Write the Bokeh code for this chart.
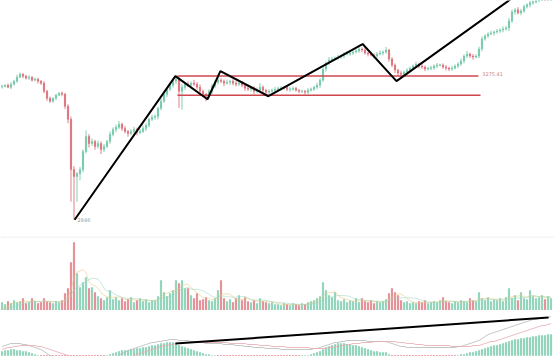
import numpy as np
from bokeh.plotting import figure
from bokeh.layouts import column
from bokeh.models import ColumnDataSource, Range1d, Span
from bokeh.embed import file_html
from bokeh.resources import INLINE
from bokeh.core.properties import value

# ---- daily index data -------------------------------------------------------
first_open = 3243
closes = [
    3245, 3248, 3242, 3251, 3260, 3272, 3281, 3275, 3269, 3272,
    3263, 3266, 3260, 3254, 3230, 3209, 3200, 3209, 3218, 3224,
    3221, 3185, 3146, 2996, 2975, 2984, 2996, 3050, 3095, 3074,
    3080, 3065, 3074, 3056, 3065, 3080, 3101, 3116, 3122, 3131,
    3119, 3110, 3104, 3110, 3116, 3107, 3110, 3119, 3128, 3146,
    3152, 3155, 3179, 3200, 3221, 3236, 3248, 3260, 3266, 3230,
    3242, 3251, 3248, 3254, 3251, 3242, 3230, 3221, 3215, 3230,
    3245, 3257, 3263, 3260, 3254, 3257, 3260, 3254, 3251, 3254,
    3248, 3239, 3236, 3239, 3230, 3233, 3242, 3233, 3227, 3230,
    3233, 3236, 3239, 3239, 3242, 3236, 3236, 3239, 3233, 3230,
    3230, 3227, 3233, 3236, 3242, 3248, 3263, 3296, 3314, 3323,
    3326, 3329, 3332, 3335, 3341, 3341, 3344, 3347, 3350, 3356,
    3353, 3344, 3341, 3338, 3335, 3341, 3344, 3347, 3353, 3326,
    3308, 3293, 3284, 3281, 3287, 3293, 3299, 3305, 3311, 3305,
    3302, 3296, 3299, 3299, 3305, 3308, 3308, 3302, 3299, 3296,
    3299, 3305, 3311, 3320, 3335, 3341, 3335, 3332, 3335, 3356,
    3386, 3395, 3401, 3404, 3407, 3410, 3413, 3416, 3419, 3440,
    3467, 3473, 3464, 3470, 3482, 3488, 3494, 3497, 3500, 3506,
    3512, 3509, 3518, 3524,
]
hi_wick = [
    4, 3, 5, 6, 4, 7, 5, 3, 4, 6,
    3, 5, 4, 3, 6, 4, 5, 3, 4, 3,
    5, 4, 6, 8, 10, 5, 8, 6, 18, 7,
    9, 5, 8, 6, 7, 5, 9, 6, 8, 10,
    5, 7, 4, 6, 8, 5, 7, 9, 6, 5,
    8, 6, 4, 7, 5, 6, 9, 8, 12, 6,
    9, 7, 8, 5, 10, 6, 8, 5, 4, 6,
    7, 5, 9, 6, 5, 8, 4, 6, 7, 5,
    6, 4, 7, 5, 6, 8, 12, 5, 4, 6,
    5, 7, 4, 6, 5, 4, 6, 5, 4, 3,
    5, 4, 6, 5, 4, 7, 6, 8, 5, 9,
    6, 4, 7, 5, 6, 8, 5, 4, 6, 7,
    5, 6, 4, 7, 5, 6, 8, 5, 9, 4,
    6, 5, 4, 7, 5, 6, 4, 5, 7, 4,
    6, 5, 4, 7, 5, 6, 4, 5, 6, 4,
    7, 5, 6, 8, 5, 9, 4, 6, 5, 7,
    8, 6, 5, 7, 4, 6, 5, 8, 6, 9,
    7, 5, 8, 6, 7, 5, 6, 4, 5, 6,
    5, 7, 4, 6,
]
lo_wick = [
    5, 4, 3, 6, 4, 5, 3, 6, 4, 5,
    4, 3, 7, 5, 6, 8, 5, 4, 6, 3,
    6, 8, 12, 96, 129, 75, 20, 8, 6, 12,
    7, 10, 6, 14, 8, 5, 7, 6, 9, 5,
    8, 6, 10, 5, 7, 9, 6, 5, 8, 6,
    5, 7, 9, 6, 5, 8, 6, 7, 9, 50,
    55, 8, 6, 10, 5, 7, 12, 9, 15, 6,
    8, 5, 7, 6, 9, 5, 8, 6, 7, 5,
    6, 8, 5, 7, 9, 6, 5, 8, 6, 7,
    5, 6, 4, 7, 5, 6, 8, 5, 4, 6,
    5, 7, 6, 4, 5, 6, 8, 5, 7, 6,
    5, 4, 6, 5, 7, 4, 5, 6, 4, 5,
    6, 5, 7, 4, 6, 5, 4, 7, 5, 8,
    6, 9, 7, 6, 5, 7, 4, 6, 5, 7,
    5, 6, 4, 7, 5, 6, 4, 5, 7, 6,
    5, 4, 6, 5, 7, 6, 5, 8, 4, 6,
    7, 5, 6, 4, 8, 5, 6, 7, 5, 9,
    6, 8, 5, 7, 6, 5, 8, 6, 5, 4,
    6, 5, 7, 4,
]
volumes = [
    8, 6, 9, 7, 10, 8, 9, 12, 7, 8,
    12, 9, 7, 8, 12, 9, 8, 7, 9, 8,
    10, 17, 22, 48, 68, 37, 23, 28, 33, 22,
    23, 18, 14, 12, 10, 13, 20, 11, 13, 10,
    12, 9, 11, 13, 8, 10, 12, 9, 11, 8,
    10, 10, 14, 30, 18, 14, 17, 20, 30, 27,
    30, 22, 22, 15, 12, 17, 10, 11, 13, 10,
    9, 12, 20, 30, 12, 9, 11, 8, 12, 15,
    10, 13, 9, 8, 10, 7, 12, 9, 8, 7,
    8, 6, 6, 5, 7, 6, 5, 7, 6, 5,
    7, 6, 8, 9, 10, 12, 14, 28, 20, 15,
    13, 18, 10, 9, 11, 8, 10, 9, 12, 8,
    12, 9, 8, 10, 7, 9, 8, 9, 11, 17,
    22, 18, 15, 10, 8, 9, 7, 8, 7, 9,
    8, 10, 7, 8, 9, 8, 10, 13, 9, 8,
    7, 9, 8, 10, 9, 8, 12, 10, 9, 18,
    12, 10, 13, 9, 11, 10, 12, 9, 13, 22,
    12, 15, 10, 18, 12, 11, 20, 14, 12, 13,
    15, 11, 14, 12,
]

# MACD indicator values
macd_hist = [
    4, 5, 5, 6, 6, 5, 5, 4, 4, 3,
    2, 1, 0, -1, -2, -3, -4, -5, -5, -5,
    -5, -6, -8, -12, -14, -14, -12, -9, -6, -5,
    -4, -3, -3, -2, -1, 0, 1, 2, 3, 4,
    5, 5, 5, 6, 6, 7, 7, 8, 8, 9,
    10, 10, 11, 12, 12, 13, 13, 13, 12, 10,
    9, 8, 7, 6, 5, 4, 3, 2, 1, 1,
    0, 0, -1, -1, -2, -2, -2, -3, -3, -3,
    -3, -3, -4, -4, -4, -4, -3, -3, -3, -3,
    -3, -2, -2, -2, -2, -1, -1, -1, -1, -1,
    0, 0, 0, 1, 2, 3, 4, 6, 8, 9,
    10, 11, 12, 12, 12, 11, 11, 10, 10, 9,
    8, 7, 6, 5, 4, 4, 3, 3, 3, 1,
    -1, -3, -4, -5, -5, -5, -4, -4, -3, -3,
    -3, -3, -3, -2, -2, -2, -2, -2, -2, -2,
    -1, -1, 0, 1, 1, 2, 3, 3, 4, 5,
    6, 7, 8, 9, 10, 10, 11, 12, 13, 14,
    15, 16, 16, 17, 17, 18, 18, 19, 19, 20,
    20, 20, 21, 21,
]
macd_dif = [
    9, 10, 11, 12, 12, 12, 12, 11, 11, 10,
    9, 8, 7, 6, 4, 2, 0, -1, -2, -3,
    -3, -5, -8, -15, -22, -26, -28, -28, -25, -23,
    -21, -19, -17, -14, -12, -10, -7, -5, -2, 0,
    2, 3, 5, 6, 7, 8, 9, 10, 11, 12,
    13, 13, 14, 14, 15, 15, 16, 16, 16, 15,
    15, 15, 15, 14, 14, 14, 13, 13, 12, 12,
    12, 12, 12, 12, 11, 11, 11, 11, 10, 10,
    10, 9, 9, 9, 8, 8, 8, 8, 7, 7,
    7, 7, 7, 6, 6, 6, 6, 6, 6, 6,
    6, 6, 6, 6, 7, 7, 8, 9, 10, 11,
    12, 13, 13, 14, 14, 15, 15, 15, 15, 15,
    15, 15, 14, 14, 14, 14, 14, 14, 14, 13,
    12, 11, 10, 9, 9, 8, 8, 8, 8, 8,
    8, 8, 8, 8, 8, 8, 8, 8, 8, 8,
    8, 8, 9, 9, 10, 11, 12, 13, 14, 15,
    17, 19, 21, 22, 23, 24, 25, 26, 27, 28,
    29, 30, 31, 32, 33, 34, 35, 36, 36, 37,
    37, 38, 38, 39,
]
macd_dea = [
    6, 7, 8, 8, 9, 9, 10, 10, 10, 10,
    10, 10, 9, 9, 8, 7, 6, 5, 4, 3,
    2, 1, 0, -2, -5, -8, -11, -13, -15, -16,
    -17, -17, -17, -16, -15, -14, -13, -12, -10, -9,
    -7, -5, -3, -2, 0, 1, 2, 3, 4, 5,
    6, 7, 8, 9, 10, 10, 11, 11, 12, 12,
    13, 13, 13, 13, 13, 13, 13, 13, 13, 13,
    13, 13, 13, 13, 13, 13, 12, 12, 12, 12,
    12, 12, 11, 11, 11, 11, 10, 10, 10, 10,
    9, 9, 9, 9, 9, 8, 8, 8, 8, 8,
    8, 8, 8, 7, 7, 7, 7, 7, 7, 8,
    8, 9, 9, 10, 10, 11, 11, 12, 12, 12,
    13, 13, 13, 13, 14, 14, 14, 14, 14, 14,
    14, 14, 13, 13, 13, 12, 12, 12, 11, 11,
    11, 10, 10, 10, 10, 10, 10, 10, 10, 10,
    9, 9, 9, 9, 9, 9, 9, 10, 10, 10,
    11, 12, 13, 14, 14, 15, 16, 17, 18, 19,
    20, 21, 22, 23, 24, 25, 26, 27, 28, 29,
    30, 30, 31, 32,
]

# hand-drawn analysis lines (bar index, value)
trend_x = [24.2, 57.8, 68.5, 72.8, 88.8, 120.2, 131.5, 180.0]
trend_y = [2846, 3275, 3206, 3290, 3215, 3371, 3260, 3572]
levels = [3275.41, 3218.0]
level_x0 = [58.5, 58.5]
level_x1 = [158.8, 159.5]
macd_trend_x = [57.8, 182.2]
macd_trend_y = [12.0, 38.0]

# ---- derived series --------------------------------------------------------
n = len(closes)
idx = np.arange(n)
opens = [first_open] + closes[:-1]
highs = [max(o, c) + h for o, c, h in zip(opens, closes, hi_wick)]
lows = [min(o, c) - l for o, c, l in zip(opens, closes, lo_wick)]
UP, DOWN = "#5cc09a", "#d85a66"
colors = [UP if c >= o else DOWN for o, c in zip(opens, closes)]
tops = [max(o, c) + (0.8 if o == c else 0) for o, c in zip(opens, closes)]
bots = [min(o, c) - (0.8 if o == c else 0) for o, c in zip(opens, closes)]

src = ColumnDataSource(dict(x=idx, o=opens, c=closes, h=highs, l=lows,
                            top=tops, bot=bots, color=colors, vol=volumes))

vol = np.array(volumes, dtype=float)
vma5 = np.convolve(vol, np.ones(5) / 5, mode="full")[:n]
vma10 = np.convolve(vol, np.ones(10) / 10, mode="full")[:n]

W = 554
x_range = Range1d(-0.5, W / 3 - 0.5)

def bare(p):
    p.xaxis.visible = False
    p.yaxis.visible = False
    p.grid.visible = False
    p.outline_line_color = None
    p.background_fill_color = "white"
    p.border_fill_color = "white"
    p.min_border = 0
    return p

# ---- price panel -----------------------------------------------------------
main = bare(figure(width=W, height=236, x_range=x_range, y_range=Range1d(2796, 3501),
                   toolbar_location=None, output_backend="svg"))
main.segment(x0="x", y0="h", x1="x", y1="l", color="color", line_width=0.9,
             alpha=0.85, source=src)
main.vbar(x="x", top="top", bottom="bot", width=0.45, fill_color="color",
          line_color="color", line_width=0.4, alpha=0.85, source=src)
for lv, a, b in zip(levels, level_x0, level_x1):
    main.line([a, b], [lv, lv], line_color="#d0464f", line_width=1.6)
main.text(x=[level_x1[1] + 0.6], y=[levels[0] + 6], text=[f"{levels[0]:.2f}"],
          text_font=value("DejaVu Sans"), text_font_size=value("5px"),
          text_color="#c88", text_baseline="middle")
low_i = int(np.argmin(lows))
main.text(x=[low_i + 1.2], y=[lows[low_i] - 1], text=[f"{lows[low_i]:.0f}"],
          text_font=value("DejaVu Sans"), text_font_size=value("5px"),
          text_color="#999", text_baseline="middle")
main.line(trend_x, trend_y, line_color="black", line_width=2)

# ---- volume panel ----------------------------------------------------------
vp = bare(figure(width=W, height=74, x_range=x_range, y_range=Range1d(0, 74),
                 toolbar_location=None, output_backend="svg"))
vp.vbar(x="x", top="vol", bottom=0, width=0.45, fill_color="color",
        line_color="color", line_width=0.4, alpha=0.8, source=src)
vp.line(idx, vma5, line_color="#e8c77a", line_width=0.8, alpha=0.7)
vp.line(idx, vma10, line_color="#9fd6c0", line_width=0.8, alpha=0.7)
vp.add_layout(Span(location=73.5, dimension="width", line_color="#ececec", line_width=1))

# ---- MACD panel ------------------------------------------------------------
mp = bare(figure(width=W, height=46, x_range=x_range, y_range=Range1d(-1, 45),
                 toolbar_location=None, output_backend="svg"))
hcol = [UP if v >= 0 else DOWN for v in macd_hist]
mp.vbar(x=idx, top=macd_hist, bottom=0, width=0.45, fill_color=hcol, line_color=hcol,
        line_width=0.4, alpha=0.8)
mp.line(idx, macd_dif, line_color="#b8b8b8", line_width=0.8)
mp.line(idx, macd_dea, line_color="#e6aab0", line_width=0.8)
mp.line(macd_trend_x, macd_trend_y, line_color="black", line_width=2)

layout = column(main, vp, mp, spacing=0)
open("out.html", "w").write(file_html(layout, INLINE))
